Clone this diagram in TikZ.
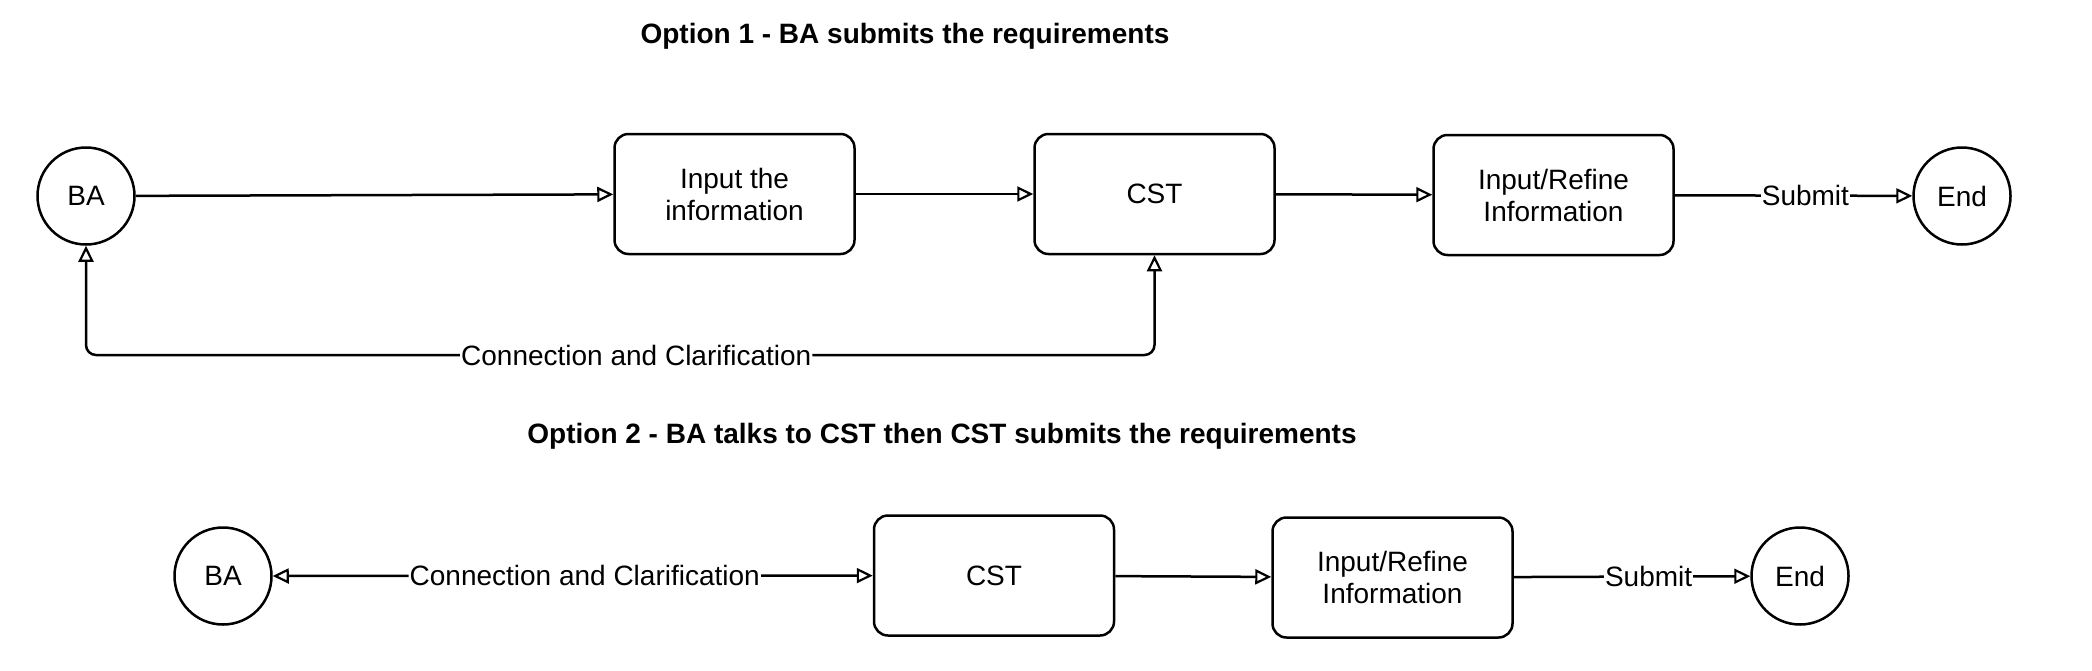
\documentclass[tikz,border=0pt]{standalone}
\usepackage{fontspec}
\setmainfont{Liberation Sans}
\usetikzlibrary{arrows.meta}
\begin{document}
\begin{tikzpicture}[x=1pt,y=1pt,
  every node/.style={font=\fontsize{28}{32}\selectfont},
  proc/.style={draw, line width=2.5pt, rounded corners=14pt, minimum width=240pt, minimum height=120pt, align=center},
  term/.style={draw, circle, line width=2.5pt, minimum size=97pt, inner sep=0pt},
  tip/.tip={Triangle[open,length=16pt,width=15pt,line width=2.2pt]},
  conn/.style={line width=2.5pt, -tip},
  biconn/.style={line width=2.5pt, tip-tip, rounded corners=10pt},
  lbl/.style={fill=white, inner sep=1pt},
  title/.style={font=\fontsize{28}{32}\selectfont\bfseries}]
\useasboundingbox (0,0) rectangle (2092,-670);
% Option 1
\node[title] (t1) at (905,-36) {Option 1 - BA submits the requirements};
\node[term] (ba1) at (86,-196) {BA};
\node[proc] (in1) at (734.5,-194) {Input the\\information};
\node[proc] (cst1) at (1154.5,-194) {CST};
\node[proc] (ref1) at (1553.5,-195) {Input/Refine\\Information};
\node[term] (end1) at (1962,-196) {End};
\coordinate (c1y) at (0,-355);
\draw[conn] (ba1) -- (in1);
\draw[conn] (in1) -- (cst1);
\draw[conn] (cst1) -- (ref1);
\draw[conn] (ref1) -- node[lbl, pos=0.55] (sub1) {Submit} (end1);
\draw[biconn] (ba1.south) -- (ba1.south |- c1y) -- node[lbl, pos=0.515] (cc1) {Connection and Clarification} (cst1.south |- c1y) -- (cst1.south);
% Option 2
\node[title] (t2) at (942,-436) {Option 2 - BA talks to CST then CST submits the requirements};
\node[term] (ba2) at (223,-576) {BA};
\node[proc] (cst2) at (994,-575.5) {CST};
\node[proc] (ref2) at (1392.5,-577.5) {Input/Refine\\Information};
\node[term] (end2) at (1800,-576) {End};
\draw[biconn] (ba2) -- node[lbl, pos=0.52] (cc2) {Connection and Clarification} (cst2);
\draw[conn] (cst2) -- (ref2);
\draw[conn] (ref2) -- node[lbl, pos=0.57] (sub2) {Submit} (end2);
\end{tikzpicture}
\end{document}
